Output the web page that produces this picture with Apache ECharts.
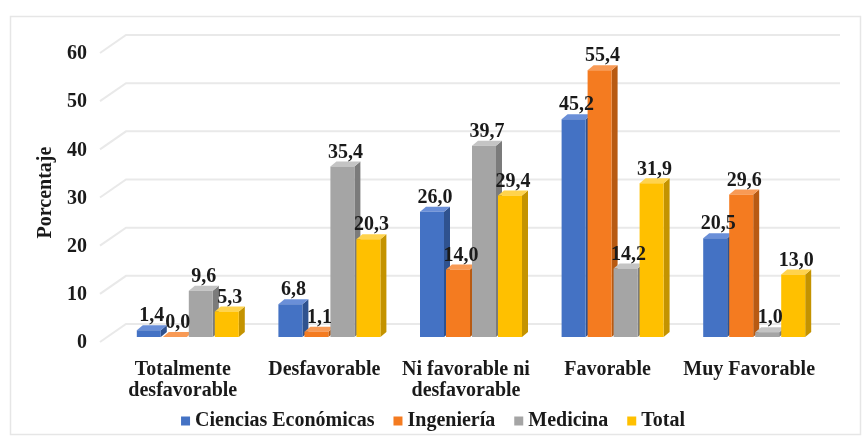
<!DOCTYPE html>
<html>
<head>
<meta charset="utf-8">
<script src="https://cdn.jsdelivr.net/npm/echarts@6/dist/echarts.min.js"></script>
<style>
  html, body { margin: 0; padding: 0; background: #fff; }
  #main { width: 866px; height: 438px; }
</style>
</head>
<body>
<div id="main"></div>
<script>
// datos
var categorias = ['Totalmente\ndesfavorable', 'Desfavorable', 'Ni favorable ni\ndesfavorable', 'Favorable', 'Muy Favorable'];
var ciencias = [1.4, 6.8, 26.0, 45.2, 20.5];
var ingenieria = [0.0, 1.1, 14.0, 55.4, 29.6];
var medicina = [9.6, 35.4, 39.7, 14.2, 1.0];
var total = [5.3, 20.3, 29.4, 31.9, 13.0];
var ticks = [0, 10, 20, 30, 40, 50, 60];

var nombres = ['Ciencias Económicas', 'Ingeniería', 'Medicina', 'Total'];
var colores = ['#4472C4', '#F47B20', '#A5A5A5', '#FFC000'];
var lados = ['#2F528F', '#B85A12', '#7B7B7B', '#C49300'];
var topes = ['#6A8FD8', '#F89A55', '#C4C4C4', '#FFD34D'];

var fuente = '"Liberation Serif", "Times New Roman", serif';
var myChart = echarts.init(document.getElementById('main'));

var DX = 6, DY = -5, ANCHO = 24, PASO = 26;

function barra3d(s) {
    return function (params, api) {
        var cat = api.value(0), val = api.value(1);
        var top = api.coord([cat, val]);
        var base = api.coord([cat, 0]);
        var x0 = top[0] - 46 + s * PASO;
        var x1 = x0 + ANCHO;
        var yt = top[1], yb = base[1];
        return {
            type: 'group',
            children: [
                { type: 'polygon', shape: { points: [[x1, yt], [x1 + DX, yt + DY], [x1 + DX, yb + DY], [x1, yb]] }, style: { fill: lados[s] } },
                { type: 'polygon', shape: { points: [[x0, yt], [x0 + DX, yt + DY], [x1 + DX, yt + DY], [x1, yt]] }, style: { fill: topes[s] } },
                { type: 'rect', shape: { x: x0, y: yt, width: ANCHO, height: yb - yt }, style: { fill: colores[s] } },
                { type: 'text', z2: 10, style: {
                    text: val.toFixed(1).replace('.', ','),
                    x: x0 + (ANCHO + DX) / 2, y: yt + DY + 1,
                    align: 'center', verticalAlign: 'bottom',
                    font: 'bold 20px ' + fuente, fill: '#1a1a1a'
                } }
            ]
        };
    };
}

function serie(s, arr) {
    return {
        name: nombres[s],
        type: 'custom',
        itemStyle: { color: colores[s] },
        renderItem: barra3d(s),
        encode: { x: 0, y: 1 },
        data: arr.map(function (v, i) { return [i, v]; }),
        z: 3
    };
}

var option = {
    backgroundColor: '#fff',
    animation: false,
    graphic: [{
        type: 'rect', left: 8, top: 14, shape: { width: 850, height: 418 },
        style: { fill: 'none', stroke: '#e6e6e6', lineWidth: 1.5 }, silent: true
    }],
    legend: {
        bottom: 2,
        left: 'center',
        itemWidth: 9, itemHeight: 9, itemGap: 19,
        icon: 'rect',
        textStyle: { fontFamily: fuente, fontWeight: 'bold', fontSize: 20, color: '#1a1a1a' },
        data: nombres
    },
    grid: { left: 112, right: 46, top: 48, bottom: 101 },
    xAxis: {
        type: 'category',
        data: categorias,
        axisLine: { show: false },
        axisTick: { show: false },
        axisLabel: { interval: 0, fontFamily: fuente, fontWeight: 'bold', fontSize: 20, color: '#1a1a1a', lineHeight: 21, margin: 22 }
    },
    yAxis: {
        type: 'value',
        min: 0, max: 60, interval: 10,
        name: 'Porcentaje',
        nameLocation: 'middle',
        nameGap: 46,
        nameTextStyle: { fontFamily: fuente, fontWeight: 'bold', fontSize: 20, color: '#1a1a1a' },
        axisLine: { show: false },
        axisTick: { show: false },
        splitLine: { show: false },
        axisLabel: { fontFamily: fuente, fontWeight: 'bold', fontSize: 20, color: '#1a1a1a', margin: 25, verticalAlign: 'top', lineHeight: 12 }
    },
    series: [
        {
            type: 'custom',
            silent: true,
            z: 1,
            renderItem: function (params, api) {
                var p = api.coord([0, api.value(0)]);
                var cs = params.coordSys;
                var xa = cs.x - 12, xb = cs.x + 14, xc = cs.x + cs.width + 20;
                return {
                    type: 'polyline',
                    shape: { points: [[xa, p[1] + 5], [xb, p[1] - 13], [xc, p[1] - 13]] },
                    style: { stroke: '#e9e9e9', lineWidth: 2, fill: 'none' }
                };
            },
            encode: { y: 0 },
            data: ticks.map(function (t) { return [t]; })
        },
        serie(0, ciencias),
        serie(1, ingenieria),
        serie(2, medicina),
        serie(3, total)
    ]
};

myChart.setOption(option);
window.addEventListener('resize', function () { myChart.resize(); });
</script>
</body>
</html>
